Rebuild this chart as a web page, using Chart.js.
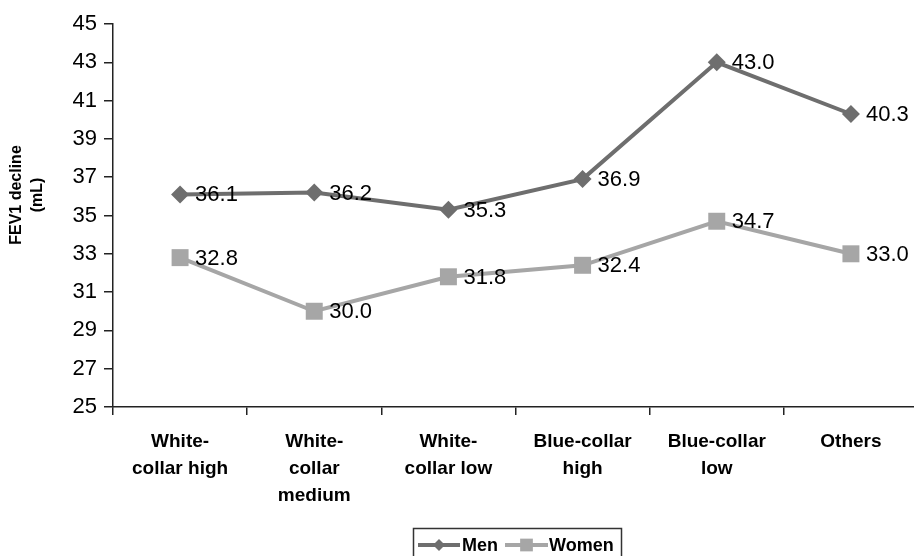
<!DOCTYPE html>
<html>
<head>
<meta charset="utf-8">
<script src="https://cdn.jsdelivr.net/npm/chart.js@4/dist/chart.umd.min.js"></script>
<style>
  html, body { margin: 0; padding: 0; background: #fff; overflow: hidden; }
  #wrap { position: relative; width: 930px; height: 556px; }
</style>
</head>
<body>
<div id="wrap"><canvas id="chart"></canvas></div>
<script>
// Occupational categories (multi-line tick labels)
const categories = [
  ['White-', 'collar high'],
  ['White-', 'collar', 'medium'],
  ['White-', 'collar low'],
  ['Blue-collar', 'high'],
  ['Blue-collar', 'low'],
  ['Others']
];

// FEV1 decline (mL) by sex
const menValues = [36.1, 36.2, 35.3, 36.9, 43.0, 40.3];
const womenValues = [32.8, 30.0, 31.8, 32.4, 34.7, 33.0];

// Y axis range and step
const yMin = 25;
const yMax = 45;
const yStep = 2;

const yTitleLines = ['FEV1 decline', '(mL)'];

const FONT = "'Liberation Sans', Arial, sans-serif";

// Value labels to the right of each point
const valueLabels = {
  id: 'valueLabels',
  afterDatasetsDraw(chart) {
    const ctx = chart.ctx;
    ctx.save();
    ctx.font = '22px ' + FONT;
    ctx.fillStyle = '#000';
    ctx.textAlign = 'left';
    ctx.textBaseline = 'middle';
    chart.data.datasets.forEach((ds, i) => {
      const meta = chart.getDatasetMeta(i);
      meta.data.forEach((pt, j) => {
        ctx.fillText(ds.data[j].toFixed(1), pt.x + 15, pt.y + 1);
      });
    });
    ctx.restore();
  }
};

// Rotated two-line y axis title
const yTitle = {
  id: 'yTitle',
  afterDraw(chart) {
    const ctx = chart.ctx;
    ctx.save();
    ctx.font = 'bold 16px ' + FONT;
    ctx.fillStyle = '#000';
    ctx.textAlign = 'center';
    ctx.textBaseline = 'middle';
    const cy = 195;
    [17, 38].forEach((x, k) => {
      ctx.save();
      ctx.translate(x, cy);
      ctx.rotate(-Math.PI / 2);
      ctx.fillText(yTitleLines[k], 0, 0);
      ctx.restore();
    });
    ctx.restore();
  }
};

// Boxed legend below the axis labels
const boxLegend = {
  id: 'boxLegend',
  afterDraw(chart) {
    const ctx = chart.ctx;
    ctx.save();
    ctx.strokeStyle = '#333';
    ctx.lineWidth = 1.5;
    ctx.strokeRect(413.5, 528.5, 208, 34);
    const cy = 545;
    const items = [
      { x0: 418, x1: 460, tx: 462 },
      { x0: 505, x1: 548, tx: 549 }
    ];
    chart.data.datasets.forEach((ds, i) => {
      const it = items[i];
      ctx.strokeStyle = ds.borderColor;
      ctx.lineWidth = 4;
      ctx.beginPath();
      ctx.moveTo(it.x0, cy);
      ctx.lineTo(it.x1, cy);
      ctx.stroke();
      ctx.fillStyle = ds.pointBackgroundColor;
      ctx.beginPath();
      const r = ds.pointStyle === 'rect' ? 9 : 6;
      const s = r * Math.SQRT1_2;
      const mx = (it.x0 + it.x1) / 2;
      if (ds.pointStyle === 'rect') {
        ctx.rect(mx - s, cy - s, 2 * s, 2 * s);
      } else {
        ctx.moveTo(mx, cy - r);
        ctx.lineTo(mx + r, cy);
        ctx.lineTo(mx, cy + r);
        ctx.lineTo(mx - r, cy);
        ctx.closePath();
      }
      ctx.fill();
      ctx.fillStyle = '#000';
      ctx.font = 'bold 18px ' + FONT;
      ctx.textAlign = 'left';
      ctx.textBaseline = 'middle';
      ctx.fillText(ds.label, it.tx, cy + 1);
    });
    ctx.restore();
  }
};

new Chart(document.getElementById('chart'), {
  type: 'line',
  data: {
    labels: categories,
    datasets: [
      {
        label: 'Men',
        data: menValues,
        borderColor: '#6e6e6e',
        backgroundColor: '#6e6e6e',
        pointBackgroundColor: '#6e6e6e',
        pointBorderWidth: 0,
        pointStyle: 'rectRot',
        pointRadius: 9,
        borderWidth: 4,
        tension: 0
      },
      {
        label: 'Women',
        data: womenValues,
        borderColor: '#a6a6a6',
        backgroundColor: '#a6a6a6',
        pointBackgroundColor: '#a6a6a6',
        pointBorderWidth: 0,
        pointStyle: 'rect',
        pointRadius: 12,
        borderWidth: 4,
        tension: 0
      }
    ]
  },
  options: {
    responsive: true,
    maintainAspectRatio: false,
    devicePixelRatio: 1,
    animation: false,
    layout: { padding: { left: 0, top: 24, right: 7, bottom: 0 } },
    plugins: {
      legend: { display: false },
      tooltip: { enabled: false }
    },
    scales: {
      x: {
        offset: true,
        grid: {
          offset: true,
          drawOnChartArea: false,
          drawTicks: true,
          tickLength: 8,
          color: '#222',
          lineWidth: 1.5
        },
        border: { color: '#222', width: 1.5 },
        ticks: {
          autoSkip: false,
          maxRotation: 0,
          minRotation: 0,
          padding: 13,
          color: '#000',
          font: { family: FONT, size: 19, weight: 'bold', lineHeight: 1.42 }
        },
        afterFit(scale) { scale.height = 149; }
      },
      y: {
        min: yMin,
        max: yMax,
        grid: {
          drawOnChartArea: false,
          drawTicks: true,
          tickLength: 9,
          color: '#222',
          lineWidth: 1.5
        },
        border: { color: '#222', width: 1.5 },
        ticks: {
          stepSize: yStep,
          padding: 7,
          color: '#000',
          font: { family: FONT, size: 22 }
        },
        afterFit(scale) { scale.width = 113; }
      }
    }
  },
  plugins: [valueLabels, yTitle, boxLegend]
});
</script>
</body>
</html>
